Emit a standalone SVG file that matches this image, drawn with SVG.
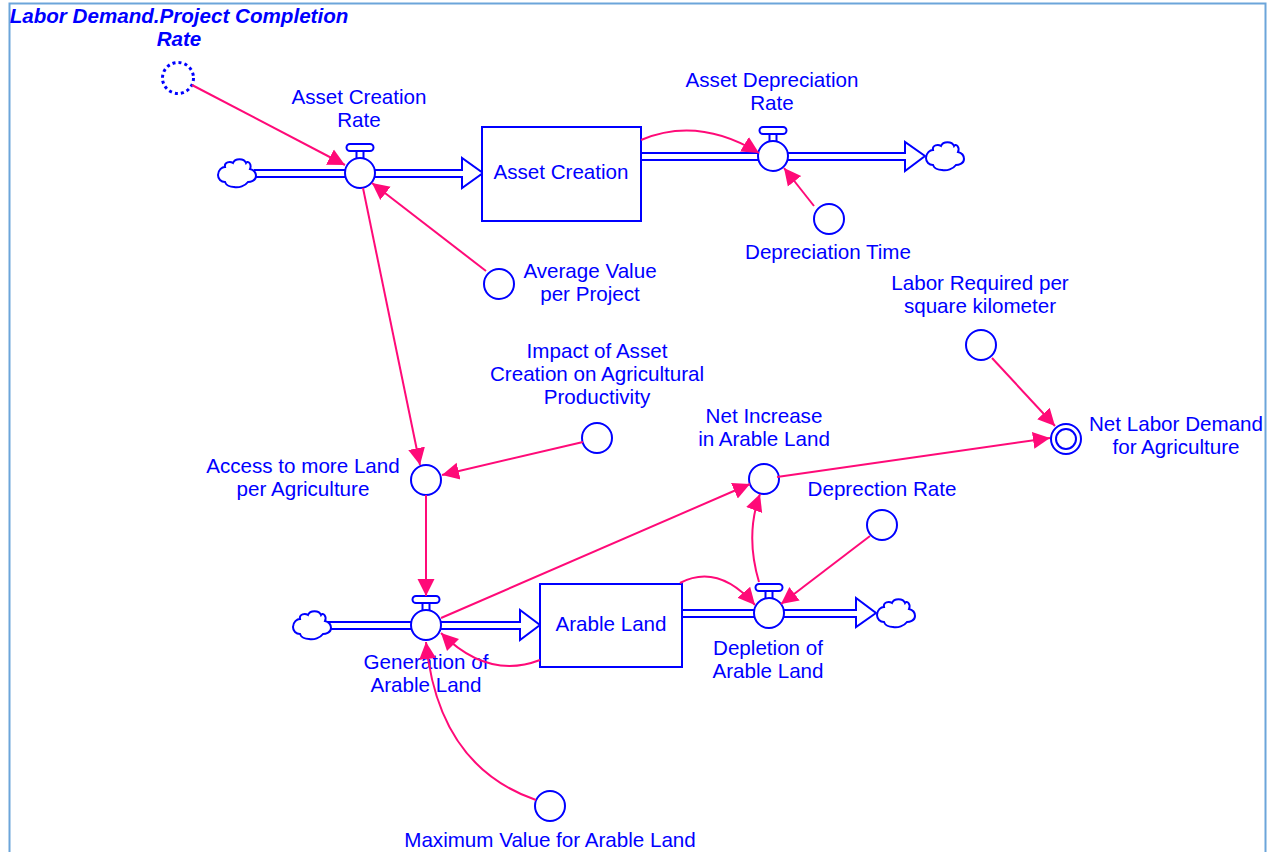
<svg xmlns="http://www.w3.org/2000/svg" xmlns:xlink="http://www.w3.org/1999/xlink" width="1270" height="852" viewBox="0 0 1270 852">
<style>
text{font-family:"Liberation Sans",Arial,sans-serif;font-size:20.600px;fill:#0000ff;text-anchor:middle;transform:translateY(.4px)}
.t{font-weight:bold;font-style:italic}
.s{fill:#fff;stroke:#0000ff;stroke-width:2}
.c{fill:none;stroke:#ff0a78;stroke-width:2;marker-end:url(#a)}
.p{fill:none;stroke:#0000ff;stroke-width:2}
</style>
<defs>
<marker id="a" markerUnits="userSpaceOnUse" markerWidth="18" markerHeight="20" refX="17" refY="10" orient="auto"><path d="M0 1.500L17 10L0 18.500Z" fill="#ff0a78"/></marker>
<path id="cloud" class="s" d="M-19 2C-19-3-15-6-12-6C-13-11-7-12-4-10C-2-15 7-15 9-10C11-13 15-9 13-4C17-3 19 0 19 3C19 8 13 9 11 9C8 13 2 15-3 14C-7 14-11 12-12 9C-16 9-19 6-19 2Z"/>
<g id="valve"><rect class="s" x="-13.500" y="-29" width="27" height="7" rx="3.500"/><rect class="s" x="-3.500" y="-22" width="7" height="8"/><circle class="s" r="15"/></g>
</defs>
<rect width="1270" height="852" fill="#fff"/>
<path d="M9.500 860V3.500H1265.500V860" fill="none" stroke="#6ca5da" stroke-width="2"/>
<g id="flows">
<path class="p" d="M254 170H462V158L483 173L462 188V177H254"/>
<path class="p" d="M641 153H905V142L925 156L905 171V160H641"/>
<path class="p" d="M328 622H520V610L540 625L520 640V629H328"/>
<path class="p" d="M682 610H856V598L876 613L856 627V617H682"/>
</g>
<g id="n-asset-creation"><rect class="s" x="482" y="127" width="159" height="94"/><text x="561" y="179">Asset Creation</text></g>
<g id="n-arable-land"><rect class="s" x="540" y="584" width="142" height="83"/><text x="611" y="631">Arable Land</text></g>
<g id="n-cloud1"><use href="#cloud" x="237" y="173"/></g>
<g id="n-cloud2"><use href="#cloud" x="945" y="156"/></g>
<g id="n-cloud3"><use href="#cloud" x="312" y="625"/></g>
<g id="n-cloud4"><use href="#cloud" x="896" y="613"/></g>
<g id="n-asset-creation-rate"><use href="#valve" x="360" y="173"/><text x="359" y="104">Asset Creation</text><text x="359" y="127">Rate</text></g>
<g id="n-asset-depreciation-rate"><use href="#valve" x="773" y="156"/><text x="772" y="87">Asset Depreciation</text><text x="772" y="110">Rate</text></g>
<g id="n-generation"><use href="#valve" x="426" y="625"/><text x="426" y="669">Generation of</text><text x="426" y="692">Arable Land</text></g>
<g id="n-depletion"><use href="#valve" x="769" y="613"/><text x="768" y="655">Depletion of</text><text x="768" y="678">Arable Land</text></g>
<g id="n-project-completion"><circle cx="178" cy="78" r="15.500" fill="#fff" stroke="#0000ff" stroke-width="3" stroke-dasharray="3 3.090"/><text class="t" x="179" y="23">Labor Demand.Project Completion</text><text class="t" x="179" y="46">Rate</text></g>
<g id="n-average-value"><circle class="s" cx="499" cy="284" r="15"/><text x="590" y="278">Average Value</text><text x="590" y="301">per Project</text></g>
<g id="n-depreciation-time"><circle class="s" cx="829" cy="219" r="15"/><text x="828" y="259">Depreciation Time</text></g>
<g id="n-labor-required"><circle class="s" cx="981" cy="345" r="15"/><text x="980" y="290">Labor Required per</text><text x="980" y="313">square kilometer</text></g>
<g id="n-impact"><circle class="s" cx="597" cy="438" r="15"/><text x="597" y="358">Impact of Asset</text><text x="597" y="381">Creation on Agricultural</text><text x="597" y="404">Productivity</text></g>
<g id="n-access"><circle class="s" cx="426" cy="480" r="15"/><text x="303" y="473">Access to more Land</text><text x="303" y="496">per Agriculture</text></g>
<g id="n-net-increase"><circle class="s" cx="764" cy="479" r="15"/><text x="764" y="423">Net Increase</text><text x="764" y="446">in Arable Land</text></g>
<g id="n-deprection"><circle class="s" cx="882" cy="525" r="15"/><text x="882" y="496">Deprection Rate</text></g>
<g id="n-maximum"><circle class="s" cx="550" cy="806" r="15"/><text x="550" y="847">Maximum Value for Arable Land</text></g>
<g id="n-net-labor"><circle class="s" cx="1066" cy="439" r="15"/><circle class="s" cx="1066" cy="439" r="10"/><text x="1176" y="431">Net Labor Demand</text><text x="1176" y="454">for Agriculture</text></g>
<g id="connectors">
<path class="c" d="M192 85L345 165"/>
<path class="c" d="M486 271L372 183"/>
<path class="c" d="M363 188L420 465"/>
<path class="c" d="M583 442L442 475"/>
<path class="c" d="M426 495V596"/>
<path class="c" d="M441 618L750 484"/>
<path class="c" d="M777 477L1050 438"/>
<path class="c" d="M992 358L1055 426"/>
<path class="c" d="M641 140Q698 116 759 153"/>
<path class="c" d="M814 206L784 168"/>
<path class="c" d="M680 583Q718 563 755 605"/>
<path class="c" d="M870 536L781 604"/>
<path class="c" d="M759 582Q745 535 760 494"/>
<path class="c" d="M540 660Q488 680 441 633"/>
<path class="c" d="M536 800Q438 766 426 642"/>
</g>
</svg>
